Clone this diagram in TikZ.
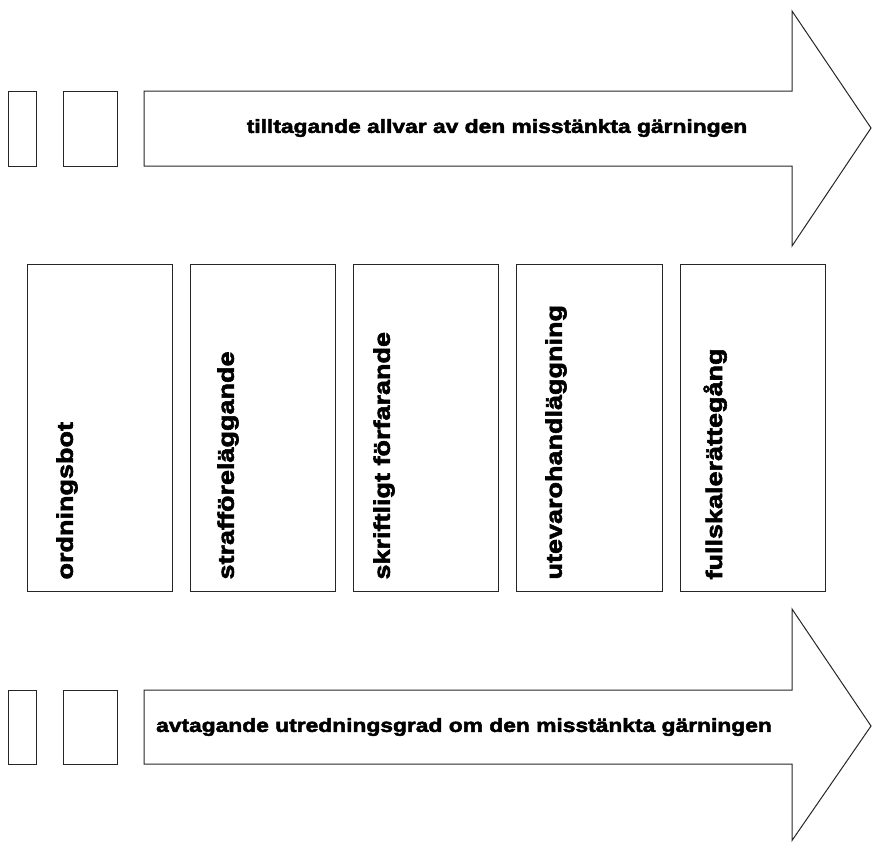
\documentclass[tikz,border=0pt]{standalone}
\usepackage{fontspec}
\setmainfont{Liberation Sans}[BoldFeatures={FakeStretch=1.2,FakeBold=2.6}]
\begin{document}
\begin{tikzpicture}[x=1pt,y=-1pt,line width=1pt,line join=miter,
  box/.style={draw=black!85,rectangle,inner sep=0pt,anchor=north west},
  arrowshape/.style={draw=black!85},
  lbl/.style={font=\bfseries\fontsize{19}{19}\selectfont,inner sep=0pt},
  vlbl/.style={font=\bfseries\fontsize{22.5}{22.5}\selectfont,inner sep=0pt,rotate=90,anchor=north west}]
\useasboundingbox (0,0) rectangle (872,841);
% top arrow
\node[box,minimum width=28pt,minimum height=75pt] (ts1) at (8,91) {};
\node[box,minimum width=54pt,minimum height=75pt] (ts2) at (63,91) {};
\draw[arrowshape] (144,91) -- (792,91) -- (792,11) -- (871,128) -- (792,246) -- (792,166) -- (144,166) -- cycle;
\node[lbl] (ttext) at (497,128) {tilltagande allvar av den misstänkta gärningen};
% boxes
\node[box,minimum width=145pt,minimum height=327pt] (b1) at (27,264) {};
\node[box,minimum width=145pt,minimum height=327pt] (b2) at (190,264) {};
\node[box,minimum width=145pt,minimum height=327pt] (b3) at (353,264) {};
\node[box,minimum width=146pt,minimum height=327pt] (b4) at (516,264) {};
\node[box,minimum width=145pt,minimum height=327pt] (b5) at (680,264) {};
\node[vlbl] (l1) at (56,580) {ordningsbot};
\node[vlbl] (l2) at (217,580) {strafföreläggande};
\node[vlbl] (l3) at (373,580) {skriftligt förfarande};
\node[vlbl] (l4) at (545,580) {utevarohandläggning};
\node[vlbl] (l5) at (703,580) {fullskalerättegång};
% bottom arrow
\node[box,minimum width=28pt,minimum height=74pt] (bs1) at (8,690) {};
\node[box,minimum width=54pt,minimum height=74pt] (bs2) at (63,690) {};
\draw[arrowshape] (144,690) -- (792,690) -- (792,609) -- (871,726) -- (792,840.5) -- (792,764) -- (144,764) -- cycle;
\node[lbl] (btext) at (464,727) {avtagande utredningsgrad om den misstänkta gärningen};
\end{tikzpicture}
\end{document}
